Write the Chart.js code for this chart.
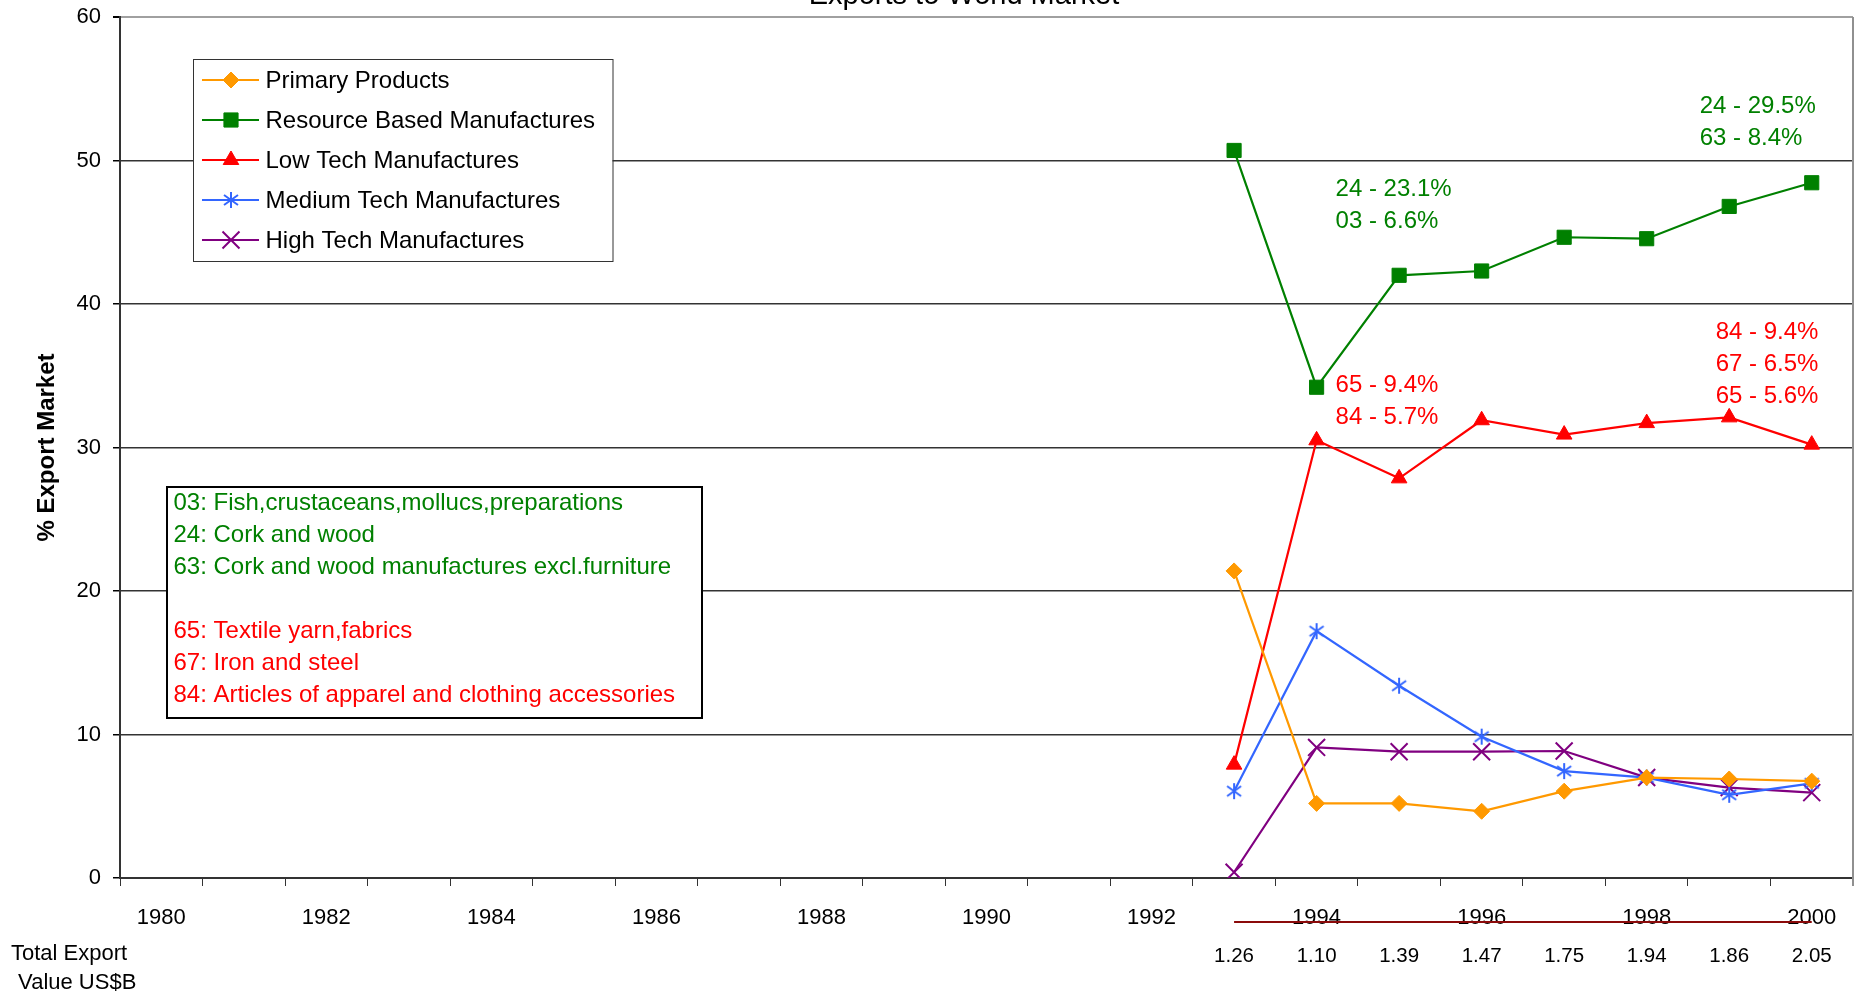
<!DOCTYPE html>
<html>
<head>
<meta charset="utf-8">
<title>Exports to World Market</title>
<script src="https://cdn.jsdelivr.net/npm/chart.js@4.4.0/dist/chart.umd.min.js"></script>
<style>
  html, body { margin: 0; padding: 0; background: #ffffff; }
  #wrap { width: 1862px; height: 994px; }
</style>
</head>
<body>
<div id="wrap"><canvas id="chart" width="1862" height="994"></canvas></div>
<script>
// ---- data ----
const years = ['1980', '1981', '1982', '1983', '1984', '1985', '1986', '1987', '1988', '1989',
               '1990', '1991', '1992', '1993', '1994', '1995', '1996', '1997', '1998', '1999', '2000'];

const primaryProducts = [null, null, null, null, null, null, null, null, null, null, null, null, null,
                         21.4, 5.2, 5.2, 4.65, 6.05, 7.0, 6.9, 6.75];
const resourceBased   = [null, null, null, null, null, null, null, null, null, null, null, null, null,
                         50.7, 34.2, 42.0, 42.3, 44.65, 44.55, 46.8, 48.45];
const lowTech         = [null, null, null, null, null, null, null, null, null, null, null, null, null,
                         7.9, 30.5, 27.85, 31.9, 30.9, 31.7, 32.1, 30.2];
const mediumTech      = [null, null, null, null, null, null, null, null, null, null, null, null, null,
                         6.05, 17.2, 13.4, 9.85, 7.45, 7.0, 5.8, 6.6];
const highTech        = [null, null, null, null, null, null, null, null, null, null, null, null, null,
                         0.4, 9.1, 8.8, 8.8, 8.85, 7.0, 6.3, 5.95];

const seriesNames = ['Primary Products', 'Resource Based Manufactures', 'Low Tech Manufactures',
                     'Medium Tech Manufactures', 'High Tech Manufactures'];

const totalExportYears  = ['1993', '1994', '1995', '1996', '1997', '1998', '1999', '2000'];
const totalExportValues = [1.26, 1.10, 1.39, 1.47, 1.75, 1.94, 1.86, 2.05];

const resourceNotes1994 = ['24 - 23.1%', '03 - 6.6%'];
const resourceNotes2000 = ['24 - 29.5%', '63 - 8.4%'];
const lowTechNotes1994  = ['65 - 9.4%', '84 - 5.7%'];
const lowTechNotes2000  = ['84 - 9.4%', '67 - 6.5%', '65 - 5.6%'];

const codeNotesResource = ['03: Fish,crustaceans,mollucs,preparations', '24: Cork and wood',
                           '63: Cork and wood manufactures excl.furniture'];
const codeNotesLowTech  = ['65: Textile yarn,fabrics', '67: Iron and steel',
                           '84: Articles of apparel and clothing accessories'];

// ---- styling ----
const FONT = "'Liberation Sans', Arial, Helvetica, sans-serif";
const ORANGE = '#ff9900', GREEN = '#008000', RED = '#ff0000', BLUE = '#3366ff', PURPLE = '#800080';

// six-armed asterisk marker
function asteriskMarker(color) {
  const c = document.createElement('canvas');
  c.width = 18; c.height = 18;
  const g = c.getContext('2d');
  g.strokeStyle = color; g.lineWidth = 2; g.lineCap = 'butt';
  g.beginPath();
  g.moveTo(9, 1); g.lineTo(9, 17);
  g.moveTo(2, 4); g.lineTo(16, 14);
  g.moveTo(2, 14); g.lineTo(16, 4);
  g.stroke();
  return c;
}

function lineSeries(label, data, color, pointStyle, radius, pointBorderWidth) {
  return {
    label, data,
    borderColor: color, backgroundColor: color,
    borderWidth: 2.2,
    pointStyle, pointRadius: radius, pointHoverRadius: radius,
    pointBackgroundColor: color, pointBorderColor: color,
    pointBorderWidth: pointBorderWidth,
    tension: 0, fill: false
  };
}

const datasets = [
  lineSeries(seriesNames[0], primaryProducts, ORANGE, 'rectRot', 8, 1),
  lineSeries(seriesNames[1], resourceBased, GREEN, 'rect', 10, 1),
  lineSeries(seriesNames[2], lowTech, RED, 'triangle', 9, 1),
  lineSeries(seriesNames[3], mediumTech, BLUE, asteriskMarker(BLUE), 8, 2),
  lineSeries(seriesNames[4], highTech, PURPLE, 'crossRot', 12, 2)
];

// decorations: title, legend, code notes, value notes, export row
const decorations = {
  id: 'decorations',
  afterDraw(chart) {
    const ctx = chart.ctx;
    const area = chart.chartArea;
    const xs = chart.scales.x, ys = chart.scales.y;
    const xAt = (yr) => xs.getPixelForValue(years.indexOf(yr));

    ctx.save();

    // right border of the plot
    ctx.strokeStyle = '#909090';
    ctx.lineWidth = 2;
    ctx.beginPath();
    ctx.moveTo(area.right, area.top);
    ctx.lineTo(area.right, area.bottom + 8);
    ctx.stroke();

    // title
    ctx.fillStyle = '#000';
    ctx.font = '29px ' + FONT;
    ctx.textAlign = 'center';
    ctx.textBaseline = 'alphabetic';
    ctx.fillText('Exports to World Market', 964, 4);

    // legend box
    const lg = { left: 193, top: 59, right: 612.5, bottom: 261 };
    ctx.fillStyle = '#fff';
    ctx.fillRect(lg.left, lg.top, lg.right - lg.left, lg.bottom - lg.top);
    ctx.strokeStyle = '#333';
    ctx.lineWidth = 1;
    ctx.strokeRect(lg.left + 0.5, lg.top + 0.5, lg.right - lg.left, lg.bottom - lg.top);
    chart.data.datasets.forEach((ds, i) => {
      const y = 80 + 40 * i;
      ctx.strokeStyle = ds.borderColor;
      ctx.lineWidth = 2;
      ctx.beginPath();
      ctx.moveTo(202, y); ctx.lineTo(259, y);
      ctx.stroke();
      ctx.fillStyle = ds.pointBackgroundColor;
      ctx.strokeStyle = ds.pointBorderColor;
      ctx.lineWidth = ds.pointBorderWidth;
      Chart.helpers.drawPoint(ctx, {
        pointStyle: ds.pointStyle, rotation: 0,
        radius: ds.pointRadius, borderWidth: ds.pointBorderWidth
      }, 231, y);
      ctx.fillStyle = '#000';
      ctx.font = '24px ' + FONT;
      ctx.textAlign = 'left';
      ctx.textBaseline = 'middle';
      ctx.fillText(ds.label, 265.5, y + 1);
    });

    // product code notes box
    const nb = { left: 167, top: 487, right: 702, bottom: 718 };
    ctx.fillStyle = '#fff';
    ctx.fillRect(nb.left, nb.top, nb.right - nb.left, nb.bottom - nb.top);
    ctx.strokeStyle = '#000';
    ctx.lineWidth = 2;
    ctx.strokeRect(nb.left, nb.top, nb.right - nb.left, nb.bottom - nb.top);
    ctx.font = '24px ' + FONT;
    ctx.textAlign = 'left';
    ctx.textBaseline = 'middle';
    const noteLines = [...codeNotesResource.map(t => [t, GREEN]), ['', GREEN],
                       ...codeNotesLowTech.map(t => [t, RED])];
    noteLines.forEach(([t, col], i) => {
      ctx.fillStyle = col;
      ctx.fillText(t, 173.5, 503 + 32.05 * i);
    });

    // value notes near the series
    const block = (lines, color, x, yValue) => {
      ctx.fillStyle = color;
      const y0 = ys.getPixelForValue(yValue);
      lines.forEach((t, i) => ctx.fillText(t, x, y0 + 32 * i));
    };
    block(resourceNotes1994, GREEN, xAt('1994') + 19, 48.0);
    block(resourceNotes2000, GREEN, xAt('2000') - 112, 53.8);
    block(lowTechNotes1994, RED, xAt('1994') + 19, 34.3);
    block(lowTechNotes2000, RED, xAt('2000') - 96, 38.0);

    // total export value row
    ctx.fillStyle = '#000';
    ctx.font = '22px ' + FONT;
    ctx.textAlign = 'left';
    ctx.fillText('Total Export', 11, 954);
    ctx.fillText(' Value US$B', 12, 983);
    ctx.font = '20.5px ' + FONT;
    ctx.textAlign = 'center';
    totalExportYears.forEach((yr, i) => {
      ctx.fillText(totalExportValues[i].toFixed(2), xAt(yr), 956);
    });

    // maroon rule under the year labels
    ctx.strokeStyle = '#8b0a0a';
    ctx.lineWidth = 2;
    ctx.beginPath();
    ctx.moveTo(xAt(totalExportYears[0]), 922);
    ctx.lineTo(xAt(totalExportYears[totalExportYears.length - 1]), 922);
    ctx.stroke();

    ctx.restore();
  }
};

new Chart(document.getElementById('chart'), {
  type: 'line',
  data: { labels: years, datasets },
  options: {
    responsive: false,
    animation: false,
    devicePixelRatio: 1,
    layout: { autoPadding: false, padding: { top: 17, right: 9, left: 0, bottom: 0 } },
    plugins: { legend: { display: false }, title: { display: false }, tooltip: { enabled: false } },
    scales: {
      x: {
        type: 'category',
        offset: true,
        grid: { display: true, drawOnChartArea: false, offset: true, tickLength: 8, color: '#333', lineWidth: 1 },
        border: { display: true, color: '#333', width: 2 },
        ticks: {
          autoSkip: false, maxRotation: 0, minRotation: 0, padding: 19,
          color: '#000', font: { family: FONT, size: 22 },
          callback(value) {
            const yr = this.getLabelForValue(value);
            return Number(yr) % 2 === 0 ? yr : '';
          }
        },
        afterFit(scale) {
          scale.height = 116;
          scale.paddingLeft = 0; scale.paddingRight = 0;
        }
      },
      y: {
        min: 0, max: 60,
        grid: {
          color: (c) => c.tick && c.tick.value === 60 ? '#a0a0a0' : '#333333',
          lineWidth: (c) => c.tick && c.tick.value === 60 ? 2 : 1.5,
          tickColor: '#000', tickLength: 7
        },
        border: { display: true, color: '#333', width: 2 },
        ticks: { stepSize: 10, padding: 12, color: '#000', font: { family: FONT, size: 22 } },
        title: {
          display: true, text: '% Export Market', color: '#000',
          font: { family: FONT, size: 24, weight: 'bold' },
          padding: { top: 33, bottom: 0 }
        },
        afterFit(scale) {
          scale.width = 120;
          scale.paddingTop = 0; scale.paddingBottom = 0;
        }
      }
    }
  },
  plugins: [decorations]
});
</script>
</body>
</html>
